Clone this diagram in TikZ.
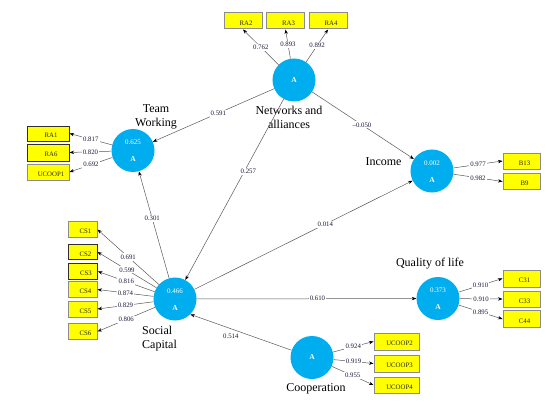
\documentclass[tikz,border=0pt]{standalone}
\usepackage{fontspec}
\setmainfont{Liberation Serif}
\usetikzlibrary{arrows.meta}
\definecolor{lvblue}{HTML}{00AEEF}
\definecolor{boxyellow}{HTML}{FFFF00}
\definecolor{boxgray}{HTML}{8C8C8C}
\definecolor{boxdark}{HTML}{303030}
\definecolor{linecol}{HTML}{5A5A5A}
\definecolor{numcol}{HTML}{1A1A3A}
\definecolor{boxtext}{HTML}{2A2A10}
\begin{document}
\begin{tikzpicture}[x=1pt,y=-1pt,
  lv/.style={circle,fill=lvblue,minimum size=43pt,inner sep=0pt,text=white,font=\fontsize{7.5}{8}\selectfont\bfseries},
  lvr/.style={label={[text=white,font=\fontsize{7}{8}\selectfont,inner sep=0pt,yshift=8pt]center:#1}},
  lva/.style={label={[text=white,font=\fontsize{7.5}{8}\selectfont\bfseries,inner sep=0pt,yshift=-9pt]center:A}},
  ind/.style={draw=boxgray,line width=1pt,fill=boxyellow,inner sep=0pt,label={[boxtxt]center:#1}},
  dk/.style={draw=boxdark},
  boxtxt/.style={font=\fontsize{6.8}{7}\selectfont,text=boxtext,inner sep=0pt,xshift=3pt,yshift=-2pt},
  sz/.style 2 args={minimum width=#1,minimum height=#2},
  conn/.style={draw=linecol,line width=0.5pt,-{Stealth[length=4.5pt,width=3.4pt,color=black]}},
  lbl/.style={fill=white,inner sep=1.2pt,font=\fontsize{6.8}{7}\selectfont,text=numcol},
  numlbl/.style={inner sep=0pt,font=\fontsize{6.8}{7}\selectfont,text=numcol},
  lvname/.style={font=\fontsize{12}{14}\selectfont,align=center,text=black,inner sep=0pt}
]
\fill[white] (0,0) rectangle (548,401);
\useasboundingbox (0,0) rectangle (548,401);

% latent variables
\node[lv] (NA) at (294,80) {A};
\node[lv,lvr=0.625,lva] (TW) at (133,150.5) {};
\node[lv,lvr=0.002,lva] (INC) at (432,171) {};
\node[lv,lvr=0.466,lva] (SC) at (175,299) {};
\node[lv,lvr=0.373,lva] (QL) at (438,298.5) {};
\node[lv] (CO) at (312,357.5) {A};

% latent names
\node[lvname] (NAt) at (289,117) {Networks and\\alliances};
\node[lvname] (TWt) at (156,117) {Team\\Working};
\node[lvname] (INCt) at (383.5,162) {Income};
\node[lvname,anchor=west,align=left] (SCt) at (142,339) {Social\\Capital};
\node[lvname] (QLt) at (430,264) {Quality of life};
\node[lvname] (COt) at (316,389) {Cooperation};

% indicators
\node[ind=RA2,sz={38pt}{16pt}] (RA2) at (243,21) {};
\node[ind=RA3,sz={38pt}{16pt}] (RA3) at (285.5,21) {};
\node[ind=RA4,sz={38pt}{16pt}] (RA4) at (328,21) {};
\node[ind=RA1,dk,sz={42pt}{15pt}] (RA1) at (48,133.5) {};
\node[ind=RA6,dk,sz={42pt}{17pt}] (RA6) at (48,152.5) {};
\node[ind=UCOOP1,sz={42pt}{16pt}] (UCOOP1) at (48,172) {};
\node[ind=B13,sz={37pt}{16pt}] (B13) at (521.5,161) {};
\node[ind=B9,sz={37pt}{16pt}] (B9) at (521.5,181.5) {};
\node[ind=CS1,sz={29pt}{16pt}] (CS1) at (82.5,229.5) {};
\node[ind=CS2,dk,sz={29pt}{15pt}] (CS2) at (82.5,252) {};
\node[ind=CS3,dk,sz={29pt}{16pt}] (CS3) at (83,271.5) {};
\node[ind=CS4,sz={29pt}{16pt}] (CS4) at (82.5,289.5) {};
\node[ind=CS5,sz={29pt}{16pt}] (CS5) at (82.5,309) {};
\node[ind=CS6,sz={29pt}{16pt}] (CS6) at (82.5,331.5) {};
\node[ind=C31,sz={37pt}{17pt}] (C31) at (521.5,278.5) {};
\node[ind=C33,sz={37pt}{16pt}] (C33) at (521.5,299) {};
\node[ind=C44,sz={37pt}{17pt}] (C44) at (521.5,319) {};
\node[ind=UCOOP2,sz={45pt}{17pt}] (UCOOP2) at (396.5,341.5) {};
\node[ind=UCOOP3,sz={45pt}{17pt}] (UCOOP3) at (396.5,363.5) {};
\node[ind=UCOOP4,sz={45pt}{16pt}] (UCOOP4) at (396.5,385) {};

% structural paths
\draw[conn] (NA) -- node[lbl,pos=0.46]{0.591} (TW);
\draw[conn] (NA) -- node[lbl,pos=0.49]{–0.050} (INC);
\draw[conn] (NA) -- node[lbl,pos=0.40,xshift=4pt]{0.257} (SC);
\draw[conn] (SC) -- node[lbl,pos=0.56]{0.301} (TW);
\draw[conn] (SC) -- node[lbl,pos=0.60]{0.014} (INC);
\draw[conn] (SC) -- node[lbl,pos=0.55]{0.610} (QL);
\draw[conn] (CO) -- node[numlbl,pos=0.6,below=5.5pt]{0.514} (SC.-45);

% outer loadings
\draw[conn] (NA) -- node[lbl]{0.762} (RA2.south);
\draw[conn] (NA) -- node[lbl]{0.893} (RA3.south);
\draw[conn] (NA) -- node[lbl]{0.892} (RA4.south);
\draw[conn] (TW) -- node[lbl]{0.817} (RA1.east);
\draw[conn] (TW) -- node[lbl]{0.820} (RA6.east);
\draw[conn] (TW) -- node[lbl]{0.692} (UCOOP1.east);
\draw[conn] (INC) -- node[lbl]{0.977} (B13.west);
\draw[conn] (INC) -- node[lbl]{0.982} (B9.west);
\draw[conn] (SC) -- node[lbl]{0.691} (CS1.east);
\draw[conn] (SC) -- node[lbl]{0.599} (CS2.east);
\draw[conn] (SC) -- node[lbl]{0.816} (CS3.east);
\draw[conn] (SC) -- node[lbl]{0.874} (CS4.east);
\draw[conn] (SC) -- node[lbl]{0.829} (CS5.east);
\draw[conn] (SC) -- node[lbl]{0.806} (CS6.east);
\draw[conn] (QL) -- node[lbl]{0.910} (C31.west);
\draw[conn] (QL) -- node[lbl]{0.910} (C33.west);
\draw[conn] (QL) -- node[lbl]{0.895} (C44.west);
\draw[conn] (CO) -- node[lbl]{0.924} (UCOOP2.west);
\draw[conn] (CO) -- node[lbl]{0.919} (UCOOP3.west);
\draw[conn] (CO) -- node[lbl]{0.955} (UCOOP4.west);
\end{tikzpicture}
\end{document}
